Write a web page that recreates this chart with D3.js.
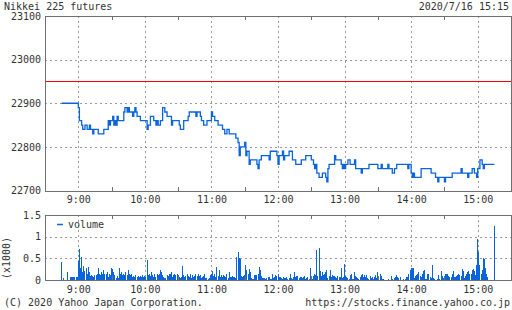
<!DOCTYPE html>
<html>
<head>
<meta charset="utf-8">
<script src="https://cdn.jsdelivr.net/npm/d3@7"></script>
<style>
  body { margin: 0; background: #fff; }
  svg { display: block; font-family: "DejaVu Sans Mono", monospace; font-size: 10px; }
</style>
</head>
<body>
<svg id="chart" width="512" height="310"></svg>
<script>
// chart values
const title = "Nikkei 225 futures";
const stamp = "2020/7/16 15:15";
const credit = "(C) 2020 Yahoo Japan Corporation.";
const site = "https://stocks.finance.yahoo.co.jp";
const priceTicks = [22700, 22800, 22900, 23000, 23100];
const volumeTicks = [0, 0.5, 1, 1.5];
const hourTicks = ["9:00", "10:00", "11:00", "12:00", "13:00", "14:00", "15:00"];
const halfTicks = ["8:30", "9:30", "10:30", "11:30", "12:30", "13:30", "14:30", "15:30"];
const refPrice = 22950;

// price steps (time the price changed, new price)
const priceTimes = [
  "08:45","09:00","09:01","09:03","09:04","09:06","09:08","09:10","09:11","09:13","09:14","09:18","09:23",
  "09:27","09:28","09:29","09:31","09:32","09:33","09:34","09:35","09:36","09:41","09:42","09:44","09:45",
  "09:46","09:49","09:50","09:51","09:52","09:53","09:56","10:02","10:03","10:05","10:08","10:10","10:11",
  "10:12","10:14","10:16","10:18","10:20","10:24","10:25","10:31","10:32","10:35","10:39","10:40","10:46",
  "10:47","10:50","10:51","10:53","10:56","11:00","11:01","11:03","11:06","11:10","11:12","11:14","11:16",
  "11:22","11:24","11:25","11:26","11:30","11:31","11:32","11:34","11:35","11:41","11:42","11:43","11:45",
  "11:52","11:53","11:59","12:00","12:01","12:04","12:05","12:06","12:10","12:13","12:16","12:21","12:25",
  "12:30","12:32","12:33","12:34","12:35","12:37","12:40","12:43","12:44","12:45","12:46","12:51","12:52",
  "12:57","12:58","12:59","13:00","13:01","13:03","13:05","13:09","13:10","13:15","13:16","13:22","13:30",
  "13:33","13:34","13:39","13:40","13:43","13:45","13:47","13:57","13:58","14:00","14:01","14:02","14:03",
  "14:09","14:18","14:22","14:24","14:25","14:30","14:31","14:37","14:45","14:46","14:51","14:52","14:55",
  "14:57","14:59","15:00","15:02","15:04","15:05","15:06","15:15"
];
const prices = [
  22900,22890,22860,22850,22840,22850,22840,22850,22840,22830,22840,22830,22840,
  22860,22850,22860,22870,22850,22860,22850,22870,22860,22880,22890,22880,22890,
  22880,22870,22880,22890,22880,22870,22860,22840,22850,22870,22860,22850,22860,
  22850,22860,22890,22880,22870,22850,22860,22850,22840,22860,22870,22880,22870,
  22880,22870,22860,22850,22860,22880,22870,22860,22850,22840,22830,22840,22830,
  22820,22810,22780,22800,22810,22780,22790,22760,22770,22760,22750,22770,22780,
  22770,22790,22780,22760,22780,22790,22770,22780,22790,22770,22760,22770,22780,
  22770,22760,22750,22760,22740,22730,22740,22730,22720,22750,22760,22780,22770,
  22760,22750,22760,22750,22760,22770,22760,22770,22750,22740,22750,22760,22750,
  22760,22750,22760,22750,22740,22750,22760,22750,22760,22740,22730,22740,22730,
  22750,22740,22730,22720,22730,22720,22730,22740,22750,22740,22730,22740,22750,
  22740,22730,22750,22770,22760,22750,22760,22760
];

// volume per minute (x1000), from 08:45 to 15:15
const volumeStart = "08:45";
const volume = [
  0.42,0,0.04,0,0,0.18,0,0,0.06,0.08,0.06,0.06,0.07,0.07,0.08,
  0.44,0.72,0.28,0.53,0.18,0.33,0.20,0.28,0.13,0.31,
  0.19,0.10,0.12,0.10,0.08,0.12,0.11,0.13,0.27,0.13,
  0.11,0.19,0.15,0.23,0.13,0.15,0.19,0.08,0.15,0.12,
  0.27,0.25,0.19,0.11,0.05,0.10,0.05,0.27,0.15,0.19,
  0.11,0.15,0.11,0.19,0.11,0.23,0.13,0.11,0.15,0.08,
  0.10,0.08,0.11,0.08,0.10,0.08,0.10,0.08,0.11,0.08,
  0.10,0.08,0.46,0.11,0.15,0.10,0.19,0.11,0.08,0.13,
  0.08,0.13,0.11,0.15,0.23,0.19,0.11,0.08,0.04,0.05,
  0.11,0.10,0.15,0.13,0.19,0.08,0.11,0.15,0.11,0.15,
  0.11,0.08,0.05,0.08,0.33,0.11,0.08,0.10,0.15,0.10,
  0.08,0.13,0.05,0.11,0.08,0.10,0.15,0.10,0.15,0.10,
  0.12,0.05,0.08,0.10,0.13,0.05,0.04,0.03,0.05,0.12,
  0.15,0.20,0.10,0.15,0.08,0.29,0.10,0.23,0.08,0.12,
  0.08,0.12,0.10,0.08,0.13,0.05,0.18,0.08,0.06,0.09,
  0.08,0.08,0.05,0.52,0.64,0.50,0.48,0.10,0.08,0.10,
  0.12,0.35,0.23,0.15,0.25,0.18,0.05,0.03,0.02,0.12,
  0.12,0.12,0.13,0.30,0.23,0.10,0.05,0.04,0.04,0.02,
  0.05,0.08,0.08,0.03,0.02,0.15,0.05,0.08,0.12,0.10,
  0.13,0.08,0.08,0.04,0.03,0.08,0.04,0.05,0.06,0.03,
  0.04,0.13,0.04,0.02,0.06,0.18,0.08,0.10,0.10,0.05,
  0.08,0.08,0.04,0.06,0.09,0.03,0.05,0.08,0.03,0.27,
  0.05,0.02,0.10,0.13,0.12,0.69,0.10,0.73,0.21,0.10,
  0.18,0.12,0.13,0.18,0.23,0.05,0.09,0.24,0.08,0.12,
  0.10,0.10,0.08,0.05,0.10,0.08,0.06,0.27,0.05,0.06,
  0.36,0.10,0.08,0.05,0.02,0.12,0.15,0.03,0.02,0.18,
  0.10,0.06,0.05,0.03,0.06,0.12,0.15,0.08,0.12,0.08,
  0.12,0.05,0.02,0.10,0.05,0.08,0.03,0.06,0.12,0.05,
  0.18,0.10,0.13,0.10,0.03,0.02,0.01,0.01,0.01,0.01,
  0.02,0.01,0.10,0.02,0.01,0.05,0.08,0.12,0.07,0.04,
  0.08,0.01,0.01,0.02,0.01,0.02,0.06,0.06,0.13,0.23,
  0.28,0.28,0.28,0.04,0.10,0.12,0.15,0.18,0.10,0.08,
  0.15,0.20,0.23,0.03,0.02,0.13,0.15,0.08,0.05,0.35,
  0.04,0.02,0.01,0.01,0.02,0.12,0.02,0.21,0.10,0.05,
  0.05,0.13,0.15,0.15,0.10,0.08,0.08,0.15,0.21,0.08,
  0.07,0.10,0.12,0.15,0.12,0.09,0.25,0.20,0.04,0.10,
  0.15,0.18,0.20,0.15,0.15,0.22,0.26,0.20,0.12,0.35,
  0.95,0.65,0.35,0.15,0.23,0.50,0.48,0.28,0.13,0.08,
  0,0,0,0,0,1.25
];

const parse = d3.timeParse("%H:%M");
const svg = d3.select("#chart");
const blue = "#0a64dc";
const frame = "#707070";
const grid = "#9a9a9a";
const ink = "#333";

const left = 45, right = 511;
const main = { top: 16, bottom: 190.5 };
const vol = { top: 215, bottom: 280 };

const x = d3.scaleTime().domain([parse("8:30"), parse("15:30")]).range([left, right]);
const y = d3.scaleLinear().domain([22700, 23100]).range([main.bottom, main.top]);
const yv = d3.scaleLinear().domain([0, 1.5]).range([vol.bottom, vol.top]);

// gridlines
function drawGrid(top, bottom, yScale, yVals) {
  const g = svg.append("g")
    .attr("stroke", grid)
    .attr("stroke-dasharray", "2,3")
    .attr("shape-rendering", "crispEdges");
  g.selectAll(".vg").data(hourTicks).enter().append("line")
    .attr("x1", d => Math.round(x(parse(d))) + 0.5)
    .attr("x2", d => Math.round(x(parse(d))) + 0.5)
    .attr("y1", top).attr("y2", bottom);
  g.selectAll(".hg").data(yVals).enter().append("line")
    .attr("x1", left).attr("x2", right)
    .attr("y1", d => Math.round(yScale(d)) + 0.5)
    .attr("y2", d => Math.round(yScale(d)) + 0.5);
}
drawGrid(main.top, main.bottom, y, [22800, 22900, 23000]);
drawGrid(vol.top, vol.bottom, yv, [0.5, 1]);

// reference line (previous close), 1px red
svg.append("rect")
  .attr("x", left)
  .attr("y", Math.round(y(refPrice)))
  .attr("width", right - left)
  .attr("height", 1)
  .attr("fill", "#ff0000")
  .attr("shape-rendering", "crispEdges");

// volume bars
const t0 = parse(volumeStart);
svg.append("g")
  .attr("fill", blue)
  .attr("shape-rendering", "crispEdges")
  .selectAll("rect")
  .data(volume)
  .enter()
  .append("rect")
  .attr("x", (d, i) => Math.floor(x(d3.timeMinute.offset(t0, i))))
  .attr("width", 1)
  .attr("y", d => yv(d))
  .attr("height", d => yv(0) - yv(d));

// price line
const pts = priceTimes.map((t, i) => [parse(t), prices[i]]);
const line = d3.line()
  .x(d => x(d[0]))
  .y(d => y(d[1]))
  .curve(d3.curveStepAfter);
svg.append("path")
  .datum(pts)
  .attr("d", line)
  .attr("fill", "none")
  .attr("stroke", blue)
  .attr("stroke-width", 1.3);

// frames
[main, vol].forEach(p => {
  svg.append("rect")
    .attr("x", left + 0.5).attr("y", Math.round(p.top) + 0.5)
    .attr("width", right - left).attr("height", Math.round(p.bottom) - Math.round(p.top))
    .attr("fill", "none").attr("stroke", frame)
    .attr("shape-rendering", "crispEdges");
});

// half hour ticks on top and bottom borders
[main, vol].forEach(p => {
  const g = svg.append("g").attr("stroke", frame).attr("shape-rendering", "crispEdges");
  halfTicks.forEach(t => {
    const xx = Math.round(x(parse(t))) + 0.5;
    g.append("line").attr("x1", xx).attr("x2", xx).attr("y1", Math.round(p.top)).attr("y2", Math.round(p.top) + 4);
    g.append("line").attr("x1", xx).attr("x2", xx).attr("y1", Math.round(p.bottom)).attr("y2", Math.round(p.bottom) - 4);
  });
});

// axes labels
const yAxis = d3.axisLeft(y).tickValues(priceTicks).tickFormat(d3.format("d")).tickSize(0).tickPadding(4);
const yvAxis = d3.axisLeft(yv).tickValues(volumeTicks).tickFormat(d => String(d)).tickSize(0).tickPadding(4);
const xTicks = hourTicks.map(parse);
const xAxis1 = d3.axisBottom(x).tickValues(xTicks).tickFormat(d3.timeFormat("%-H:%M")).tickSize(0).tickPadding(5);
const xAxis2 = d3.axisBottom(x).tickValues(xTicks).tickFormat(d3.timeFormat("%-H:%M")).tickSize(0).tickPadding(6);

function styleAxis(g) {
  g.select(".domain").remove();
  g.selectAll("text").attr("fill", ink).style("font-family", "DejaVu Sans Mono, monospace").style("font-size", "10px");
}
svg.append("g").attr("transform", `translate(${left},0)`).call(yAxis).call(styleAxis);
svg.append("g").attr("transform", `translate(${left},0)`).call(yvAxis).call(styleAxis);
svg.append("g").attr("transform", `translate(0,${main.bottom})`).call(xAxis1).call(styleAxis);
svg.append("g").attr("transform", `translate(0,${vol.bottom})`).call(xAxis2).call(styleAxis);

// texts
svg.append("text").attr("x", 4).attr("y", 10).attr("fill", ink).text(title);
svg.append("text").attr("x", 509).attr("y", 10).attr("text-anchor", "end").attr("fill", ink).text(stamp);
svg.append("text").attr("x", 4).attr("y", 306).attr("fill", ink).text(credit);
svg.append("text").attr("x", 510).attr("y", 306).attr("text-anchor", "end").attr("fill", ink).text(site);
svg.append("text")
  .attr("transform", "translate(10,258) rotate(-90)")
  .attr("text-anchor", "middle")
  .attr("fill", ink)
  .text("(x1000)");

// legend
svg.append("line")
  .attr("x1", 57).attr("x2", 63).attr("y1", 224.5).attr("y2", 224.5)
  .attr("stroke", blue).attr("stroke-width", 1.5);
svg.append("text").attr("x", 68).attr("y", 228).attr("fill", ink).text("volume");
</script>
</body>
</html>
